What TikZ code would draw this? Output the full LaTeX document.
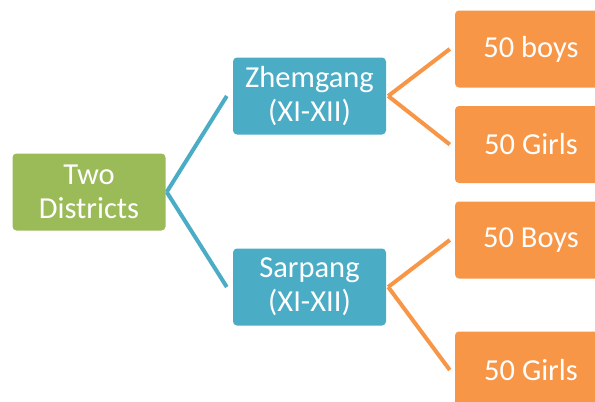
\documentclass[tikz,border=0pt]{standalone}
\usepackage{fontspec}
\setmainfont{Carlito}
\definecolor{cgreen}{HTML}{9BBB59}
\definecolor{cblue}{HTML}{4BACC6}
\definecolor{corange}{HTML}{F79646}
\begin{document}
\begin{tikzpicture}[x=1pt,y=-1pt,
  box/.style={rectangle, rounded corners=4pt, minimum width=153pt, minimum height=77pt,
    text=white, align=center, inner sep=0pt, font=\fontsize{30.5}{34}\selectfont},
  gbox/.style={box, fill=cgreen},
  bbox/.style={box, fill=cblue},
  obox/.style={box, fill=corange, minimum width=152pt},
  blink/.style={draw=cblue, line width=4pt},
  olink/.style={draw=corange, line width=4pt}]
\useasboundingbox (0,0) rectangle (595,402);
\clip (0,0) rectangle (595,402);
\node[gbox] (g) at (89,192) {Two\\Districts};
\node[bbox] (z) at (309.5,96) {Zhemgang\\(XI-XII)};
\node[bbox] (s) at (309.5,287) {Sarpang\\(XI-XII)};
\node[obox] (b1) at (531,49) {50 boys};
\node[obox] (g1) at (531,144.5) {50 Girls};
\node[obox] (b2) at (531,240) {50 Boys};
\node[obox] (g2) at (531,370) {50 Girls};
\draw[blink] ([xshift=1pt]g.east) -- ([xshift=-6pt]z.west);
\draw[blink] ([xshift=1pt]g.east) -- ([xshift=-6pt]s.west);
\draw[olink] ([xshift=2pt]z.east) -- ([xshift=-5pt]b1.west);
\draw[olink] ([xshift=2pt]z.east) -- ([xshift=-5pt]g1.west);
\draw[olink] ([xshift=2pt]s.east) -- ([xshift=-5pt]b2.west);
\draw[olink] ([xshift=2pt]s.east) -- ([xshift=-5pt]g2.west);
\end{tikzpicture}
\end{document}
